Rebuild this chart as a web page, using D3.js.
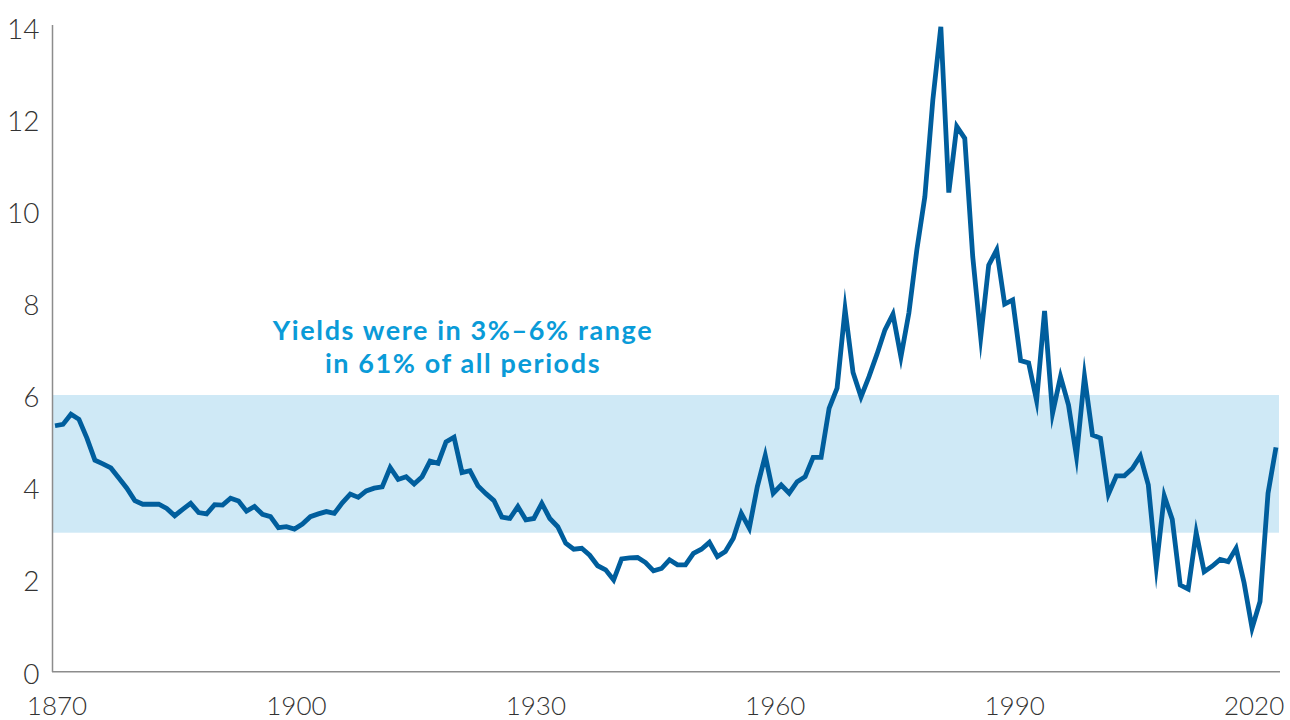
<!DOCTYPE html>
<html><head><meta charset="utf-8">
<script src="https://cdn.jsdelivr.net/npm/d3@7/dist/d3.min.js"></script>
<style>
html,body{margin:0;padding:0;background:#fff;}
svg{display:block;}
</style></head>
<body>
<svg id="chart" width="1290" height="720"></svg>
<script>
const startYear = 1870;
const yields = [
5.33,5.36,5.58,5.47,5.06,4.58,4.50,4.41,4.19,3.97,
3.70,3.62,3.62,3.62,3.53,3.37,3.51,3.64,3.44,3.41,
3.61,3.60,3.75,3.69,3.47,3.57,3.40,3.35,3.11,3.13,
3.08,3.19,3.35,3.41,3.46,3.42,3.65,3.84,3.77,3.91,
3.97,4.00,4.42,4.16,4.22,4.06,4.22,4.56,4.51,4.98,
5.08,4.31,4.35,4.02,3.85,3.70,3.34,3.31,3.57,3.28,
3.31,3.64,3.31,3.13,2.77,2.64,2.66,2.51,2.28,2.19,
1.97,2.43,2.45,2.46,2.35,2.17,2.22,2.41,2.30,2.30,
2.55,2.64,2.79,2.48,2.59,2.88,3.42,3.10,4.00,4.68,
3.86,4.04,3.86,4.11,4.22,4.64,4.64,5.71,6.15,7.87,
6.49,5.96,6.40,6.89,7.42,7.76,6.83,7.79,9.17,10.32,
12.43,14.02,10.41,11.85,11.59,9.01,7.26,8.83,9.16,7.98,
8.07,6.75,6.70,5.88,7.83,5.60,6.40,5.78,4.66,6.41,
5.13,5.06,3.84,4.24,4.24,4.40,4.67,4.04,2.26,3.80,
3.29,1.86,1.77,3.00,2.15,2.27,2.42,2.37,2.66,1.91,
0.92,1.50,3.86,4.86
];
const years = yields.map((v, i) => startYear + i);
const xTickYears = [1870, 1900, 1930, 1960, 1990, 2020];
const yTickValues = [0, 2, 4, 6, 8, 10, 12, 14];
const bandRange = [3, 6];
const noteLines = ["Yields were in 3%\u20136% range", "in 61% of all periods"];

const data = years.map((y, i) => ({year: y, value: yields[i]}));
const svg = d3.select("#chart");

const x = d3.scaleLinear().domain([1870, 2023]).range([55, 1276]);
const y = d3.scaleLinear().domain([0, 14]).range([670.4, 27.8]);
const yLabel = d3.scaleLinear().domain([0, 14]).range([673.5, 28.5]);

const axisColor = "#8c8c8c";
const textColor = "#333333";

// band
svg.append("rect")
  .attr("x", 53).attr("width", 1279 - 53)
  .attr("y", y(bandRange[1])).attr("height", y(bandRange[0]) - y(bandRange[1]))
  .attr("fill", "#cfe9f6");

// axes lines
svg.append("line").attr("x1", 52.5).attr("x2", 52.5).attr("y1", 25).attr("y2", 672)
  .attr("stroke", axisColor).attr("stroke-width", 1.5);
svg.append("line").attr("x1", 52).attr("x2", 1280).attr("y1", 671.8).attr("y2", 671.8)
  .attr("stroke", axisColor).attr("stroke-width", 1.5);

// y tick labels
svg.append("g").selectAll("text").data(yTickValues).join("text")
  .attr("x", 39.5).attr("y", d => yLabel(d))
  .attr("dy", "0.36em")
  .attr("text-anchor", "end")
  .attr("font-family", "Lato, 'Open Sans', sans-serif")
  .attr("font-weight", 300)
  .attr("font-size", 28)
  .attr("fill", textColor)
  .text(d => d);

// x tick labels
svg.append("g").selectAll("text").data(xTickYears).join("text")
  .attr("x", d => x(d) + 2).attr("y", 715)
  .attr("text-anchor", "middle")
  .attr("font-family", "Lato, 'Open Sans', sans-serif")
  .attr("font-weight", 300)
  .attr("font-size", 26)
  .attr("fill", textColor)
  .text(d => d);

// line
const line = d3.line().x(d => x(d.year)).y(d => y(d.value));
svg.append("path").datum(data)
  .attr("d", line)
  .attr("fill", "none")
  .attr("stroke", "#005e9d")
  .attr("stroke-width", 4.8)
  .attr("stroke-linejoin", "miter")
  .attr("stroke-miterlimit", 10);

// annotation
svg.append("g").selectAll("text").data(noteLines).join("text")
  .attr("x", 463).attr("y", (d, i) => 340 + i * 32.7)
  .attr("text-anchor", "middle")
  .attr("font-family", "Lato, 'Open Sans', sans-serif")
  .attr("font-weight", 700)
  .attr("font-size", 27)
  .attr("letter-spacing", 1.6)
  .attr("fill", "#0a9bd8")
  .text(d => d);
</script>
</body></html>
